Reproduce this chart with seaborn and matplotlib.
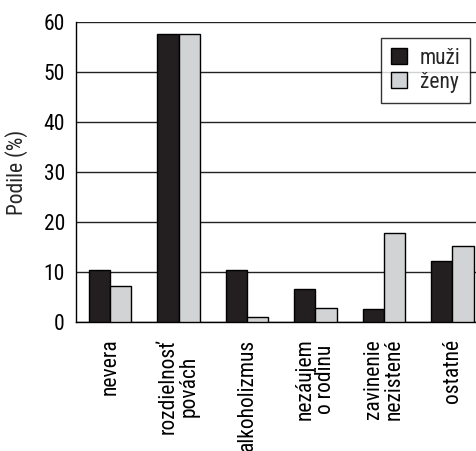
import pandas as pd
import matplotlib
matplotlib.use("Agg")
import matplotlib.pyplot as plt
import seaborn as sns

categories = ["nevera", "rozdielnosť\npovách", "alkoholizmus", "nezáujem\no rodinu",
              "zavinenie\nnezistené", "ostatné"]
muzi = [10.5, 57.7, 10.5, 6.6, 2.7, 12.3]
zeny = [7.2, 57.7, 1.0, 2.9, 17.9, 15.3]
groups = ["muži", "ženy"]

df = pd.DataFrame({
    "kategoria": categories * 2,
    "podiel": muzi + zeny,
    "pohlavie": [groups[0]] * len(categories) + [groups[1]] * len(categories),
})

sns.set_style("white")
plt.rcParams["font.family"] = ["Roboto Condensed", "DejaVu Sans"]
fs = 15.5

fig = plt.figure(figsize=(4.77, 4.51), dpi=100)
ax = fig.add_axes([76 / 477, 129 / 451, 1 - 76 / 477 + 0.02, 300 / 451])

sns.barplot(data=df, x="kategoria", y="podiel", hue="pohlavie",
            palette=["#231f20", "#d1d3d4"], width=0.62, saturation=1,
            edgecolor="black", linewidth=1, ax=ax, zorder=3)

ax.set_ylim(0, 60)
ax.set_xlim(-0.5, 5.5)
ax.set_yticks(range(0, 61, 10))
ax.yaxis.grid(True, color="#222222", linewidth=1, zorder=0)
ax.set_axisbelow(True)
for s in ["top", "right"]:
    ax.spines[s].set_visible(False)
for s in ["left", "bottom"]:
    ax.spines[s].set_color("black")
    ax.spines[s].set_linewidth(1)

ax.tick_params(axis="both", length=0, labelsize=fs, colors="black")
ax.tick_params(axis="y", pad=8)
ax.tick_params(axis="x", pad=12)
ax.set_xticks(range(len(categories)))
ax.set_xticklabels(categories, rotation=90, ha="center", va="top",
                   multialignment="center", linespacing=0.95)
ax.set_xlabel("")
ax.set_ylabel("Podile (%)", fontsize=fs, labelpad=11)

leg = ax.legend(loc="upper right", bbox_to_anchor=(0.96, 0.947), fontsize=fs,
                frameon=True, fancybox=False, edgecolor="black",
                handlelength=0.75, handleheight=0.75, handletextpad=0.6,
                borderpad=0.45, labelspacing=0.15, borderaxespad=0)
leg.get_frame().set_linewidth(1)
leg.set_zorder(5)

fig.savefig("out.png", dpi=100)
